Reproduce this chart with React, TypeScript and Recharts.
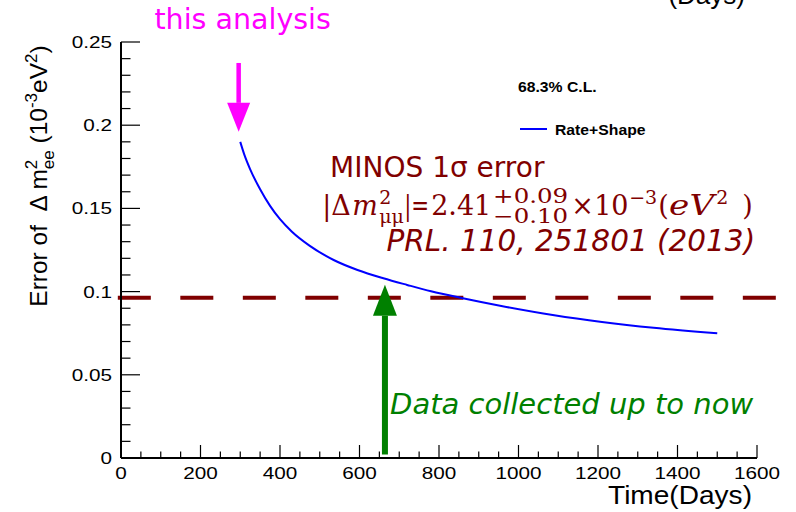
import React from 'react';
import { LineChart, Line, XAxis, YAxis, ReferenceLine, ReferenceDot, Legend } from 'recharts';

// Projected error on Δm²ee versus live days (Rate+Shape fit, 68.3% C.L.)
const days = [300, 310, 325, 350, 375, 400, 430, 475, 535, 595, 660, 720, 780, 860, 960, 1090, 1210, 1340, 1500];
const rateShapeError = [
  0.19, 0.1825, 0.1735, 0.1615, 0.1515, 0.1435, 0.136, 0.1275, 0.119, 0.113, 0.108, 0.104, 0.1002, 0.096, 0.0912,
  0.0858, 0.0818, 0.0783, 0.075,
];

// MINOS 1σ error on |Δm²μμ|
const minosError = 0.0963;
// Annotation positions (days / error units)
const thisAnalysisDay = 296;
const dataNowDay = 664;

const xMajorTicks = [0, 200, 400, 600, 800, 1000, 1200, 1400, 1600];
const yMajorTicks = [0, 0.05, 0.1, 0.15, 0.2, 0.25];
const yTickLabels = ['0', '0.05', '0.1', '0.15', '0.2', '0.25'];

const X_MINOR = 50;
const Y_MINOR = 0.01;

const range = (stop: number, step: number) => {
  const out: number[] = [];
  for (let i = 0; i * step <= stop + 1e-9; i++) out.push(+(i * step).toFixed(4));
  return out;
};
const xTicks = range(1600, X_MINOR);
const yTicks = range(0.25, Y_MINOR);

const data = days.map((d, i) => ({ day: d, err: rateShapeError[i] }));

const SANS = 'Liberation Sans, Arial, Helvetica, sans-serif';
const DEJAVU = 'DejaVu Sans, sans-serif';
const SERIF = 'DejaVu Serif, serif';
const MAROON = '#800000';
const GREEN = '#008000';
const MAGENTA = '#ff00ff';
const LABEL_STRETCH = 1.22;

const isMajorX = (v: number) => xMajorTicks.some((t) => Math.abs(t - v) < 1e-6);
const isMajorY = (v: number) => yMajorTicks.some((t) => Math.abs(t - v) < 1e-6);
const yLabelFor = (v: number) => yTickLabels[yMajorTicks.findIndex((t) => Math.abs(t - v) < 1e-6)];

const BottomTick = (p: any) => {
  const v = p.payload.value;
  const major = isMajorX(v);
  return (
    <g>
      <line x1={p.x} x2={p.x} y1={p.y} y2={p.y - (major ? 13 : 6.5)} stroke="#000" strokeWidth={1.2} />
      {major && (
        <text
          transform={`translate(${p.x},${p.y + 21}) scale(${LABEL_STRETCH},1)`}
          textAnchor="middle"
          fontFamily={SANS}
          fontSize={17}
          fill="#000"
        >
          {String(v)}
        </text>
      )}
    </g>
  );
};

const TopTick = (p: any) => {
  const major = isMajorX(p.payload.value);
  return <line x1={p.x} x2={p.x} y1={p.y} y2={p.y + (major ? 13 : 6.5)} stroke="#000" strokeWidth={1.2} />;
};

const LeftTick = (p: any) => {
  const v = p.payload.value;
  const major = isMajorY(v);
  return (
    <g>
      <line x1={p.x} x2={p.x + (major ? 19 : 9.5)} y1={p.y} y2={p.y} stroke="#000" strokeWidth={1.2} />
      {major && (
        <text
          transform={`translate(${p.x - 9},${p.y + 6}) scale(${LABEL_STRETCH},1)`}
          textAnchor="end"
          fontFamily={SANS}
          fontSize={17}
          fill="#000"
        >
          {yLabelFor(v)}
        </text>
      )}
    </g>
  );
};

const RightTick = (p: any) => {
  const major = isMajorY(p.payload.value);
  return <line x1={p.x} x2={p.x - (major ? 19 : 9.5)} y1={p.y} y2={p.y} stroke="#000" strokeWidth={1.2} />;
};

const XTitle = (p: any) => {
  const vb = p.viewBox;
  return (
    <text
      transform={`translate(${vb.x + vb.width - 5},${vb.y + 46}) scale(1.08,1)`}
      textAnchor="end"
      fontFamily={SANS}
      fontSize={26}
      fill="#000"
    >
      Time(Days)
    </text>
  );
};

const YTitle = (p: any) => {
  const vb = p.viewBox;
  const x = vb.x + 47;
  const y = vb.y + 134;
  return (
    <text
      transform={`translate(${x},${y}) rotate(-90)`}
      textAnchor="middle"
      fontFamily={SANS}
      fontSize={24.5}
      fill="#000"
      style={{ whiteSpace: 'pre' }}
    >
      <tspan>{'Error of  Δ m'}</tspan>
      <tspan fontSize={17} dy={-10}>2</tspan>
      <tspan fontSize={17} dx={-9.5} dy={17}>ee</tspan>
      <tspan dy={-7}>{' (10'}</tspan>
      <tspan fontSize={17} dy={-10}>-3</tspan>
      <tspan dy={10}>eV</tspan>
      <tspan fontSize={17} dy={-10}>2</tspan>
      <tspan dy={10}>)</tspan>
    </text>
  );
};

const arrowShape = (color: string, width: number, headLen: number, headHalf: number) => (p: any) => {
  const { x1, y1, x2, y2 } = p;
  const len = Math.hypot(x2 - x1, y2 - y1) || 1;
  const ux = (x2 - x1) / len;
  const uy = (y2 - y1) / len;
  const bx = x2 - ux * headLen;
  const by = y2 - uy * headLen;
  const px = -uy;
  const py = ux;
  return (
    <g>
      <line x1={x1} y1={y1} x2={bx} y2={by} stroke={color} strokeWidth={width} />
      <polygon
        points={`${x2},${y2} ${bx + px * headHalf},${by + py * headHalf} ${bx - px * headHalf},${by - py * headHalf}`}
        fill={color}
      />
    </g>
  );
};

type TextOpts = { size: number; color: string; italic?: boolean; anchor?: string; dx?: number; dy?: number; family?: string };
const textShape = (content: string, opts: TextOpts) => (p: any) => (
  <text
    x={p.cx + (opts.dx || 0)}
    y={p.cy + (opts.dy || 0)}
    textAnchor={opts.anchor || 'start'}
    fontFamily={opts.family || DEJAVU}
    fontSize={opts.size}
    fontStyle={opts.italic ? 'italic' : 'normal'}
    fill={opts.color}
  >
    {content}
  </text>
);

type Piece = { dx: number; dy?: number; t: string; size?: number; italic?: boolean; len?: number };
const formulaPieces: Piece[] = [
  { dx: 0, t: '|Δ' },
  { dx: 30, t: 'm', italic: true },
  { dx: 57, dy: -11, t: '2', size: 19 },
  { dx: 57, dy: 8, t: 'μμ', size: 19 },
  { dx: 82, t: '|=', len: 25 },
  { dx: 109, t: '2.41' },
  { dx: 171, dy: -12, t: '+0.09', size: 20, len: 75 },
  { dx: 171, dy: 8, t: '−0.10', size: 20, len: 75 },
  { dx: 249, t: '×' },
  { dx: 272, t: '10' },
  { dx: 307, dy: -11, t: '−3', size: 19 },
  { dx: 336, t: '(' },
  { dx: 347, t: 'eV', italic: true, len: 45 },
  { dx: 394, dy: -11, t: '2', size: 19 },
  { dx: 420, t: ')' },
];

const formulaShape = (p: any) => (
  <g fontFamily={SERIF} fill={MAROON}>
    {formulaPieces.map((f, i) => (
      <text
        key={i}
        x={p.cx + f.dx}
        y={p.cy + (f.dy || 0)}
        fontSize={f.size || 27}
        fontStyle={f.italic ? 'italic' : 'normal'}
        textLength={f.len}
        lengthAdjust={f.len ? 'spacingAndGlyphs' : undefined}
      >
        {f.t}
      </text>
    ))}
  </g>
);

const LegendBox = () => (
  <svg width={240} height={80} style={{ display: 'block', overflow: 'visible' }}>
    <text transform="translate(8,22) scale(1.05,1)" fontFamily={SANS} fontWeight="bold" fontSize={15} fill="#000">
      68.3% C.L.
    </text>
    <line x1={10} x2={37} y1={59} y2={59} stroke="#0000ff" strokeWidth={2} />
    <text transform="translate(45,64.5) scale(1.05,1)" fontFamily={SANS} fontWeight="bold" fontSize={15} fill="#000">
      Rate+Shape
    </text>
  </svg>
);

export default function App() {
  return (
    <div style={{ position: 'absolute', left: 0, top: 0, width: 796, height: 512, background: '#fff' }}>
      <LineChart width={796} height={512} data={data} margin={{ top: 42, right: 39, bottom: 0, left: 0 }}>
        <XAxis
          dataKey="day"
          type="number"
          domain={[0, 1600]}
          allowDataOverflow
          ticks={xTicks}
          interval={0}
          tickSize={0}
          tickMargin={0}
          tickLine={false}
          tick={BottomTick}
          axisLine={{ stroke: '#000', strokeWidth: 2 }}
          height={54}
          label={XTitle}
        />
        <XAxis
          xAxisId="top"
          orientation="top"
          dataKey="day"
          type="number"
          domain={[0, 1600]}
          allowDataOverflow
          ticks={xTicks}
          interval={0}
          tickSize={0}
          tickMargin={0}
          tickLine={false}
          tick={TopTick}
          axisLine={{ stroke: '#000', strokeWidth: 2 }}
          height={0}
        />
        <YAxis
          type="number"
          domain={[0, 0.25]}
          allowDataOverflow
          ticks={yTicks}
          interval={0}
          tickSize={0}
          tickMargin={0}
          tickLine={false}
          tick={LeftTick}
          axisLine={{ stroke: '#000', strokeWidth: 2 }}
          width={121}
          label={YTitle}
        />
        <YAxis
          yAxisId="right"
          orientation="right"
          type="number"
          domain={[0, 0.25]}
          allowDataOverflow
          ticks={yTicks}
          interval={0}
          tickSize={0}
          tickMargin={0}
          tickLine={false}
          tick={RightTick}
          axisLine={{ stroke: '#000', strokeWidth: 2 }}
          width={0}
        />
        <Legend
          layout="vertical"
          align="center"
          verticalAlign="middle"
          content={LegendBox}
          wrapperStyle={{ left: 510, top: 70, width: 240, height: 80 }}
        />
        <ReferenceLine
          segment={[
            { x: -8, y: minosError },
            { x: 1660, y: minosError },
          ]}
          ifOverflow="visible"
          stroke={MAROON}
          strokeWidth={4}
          strokeDasharray="33 29.5"
        />
        <Line
          dataKey="err"
          type="monotone"
          stroke="#0000ff"
          strokeWidth={2}
          dot={false}
          isAnimationActive={false}
        />
        <ReferenceLine
          segment={[
            { x: thisAnalysisDay, y: 0.2374 },
            { x: thisAnalysisDay, y: 0.196 },
          ]}
          ifOverflow="visible"
          shape={arrowShape(MAGENTA, 4.5, 29, 11.5)}
        />
        <ReferenceLine
          segment={[
            { x: dataNowDay, y: 0.0021 },
            { x: dataNowDay, y: 0.1041 },
          ]}
          ifOverflow="visible"
          shape={arrowShape(GREEN, 6, 31, 12)}
        />
        <ReferenceDot
          x={thisAnalysisDay}
          y={0.25}
          r={0}
          ifOverflow="visible"
          shape={textShape('this analysis', { size: 28.5, color: MAGENTA, anchor: 'middle', dx: 4, dy: -13 })}
        />
        <ReferenceDot
          x={1600}
          y={0.25}
          r={0}
          ifOverflow="visible"
          shape={textShape('(Days)', { size: 26, color: '#000', anchor: 'end', dx: -12, dy: -38, family: SANS })}
        />
        <ReferenceDot x={526} y={0.169} r={0} ifOverflow="visible" shape={textShape('MINOS 1σ error', { size: 28, color: MAROON })} />
        <ReferenceDot x={506} y={0.1462} r={0} ifOverflow="visible" shape={formulaShape} />
        <ReferenceDot
          x={668}
          y={0.1241}
          r={0}
          ifOverflow="visible"
          shape={textShape('PRL. 110, 251801 (2013)', { size: 29.5, color: MAROON, italic: true })}
        />
        <ReferenceDot
          x={677}
          y={0.0267}
          r={0}
          ifOverflow="visible"
          shape={textShape('Data collected up to now', { size: 29, color: GREEN, italic: true })}
        />
      </LineChart>
    </div>
  );
}
